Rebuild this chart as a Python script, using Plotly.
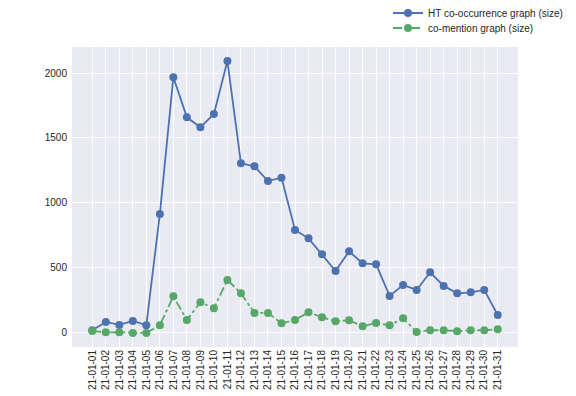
import plotly.graph_objects as go

dates = ["21-01-%02d" % d for d in range(1, 32)]
ht_cooc = [20, 85, 62, 92, 60, 915, 1967, 1659, 1582, 1685, 2092, 1305, 1282, 1169, 1195,
           792, 728, 605, 477, 628, 536, 528, 285, 369, 331, 467, 362, 305, 313, 331, 138]
co_mention = [15, 5, 5, 0, 0, 59, 282, 100, 236, 190, 408, 305, 154, 154, 74,
              100, 159, 121, 90, 97, 51, 77, 59, 113, 8, 21, 21, 13, 21, 21, 28]

blue = "#4C72B0"
green = "#55A868"
x_idx = list(range(len(dates)))

fig = go.Figure()
fig.add_trace(go.Scatter(x=x_idx, y=ht_cooc, mode="lines+markers",
                         name="HT co-occurrence graph (size)",
                         line=dict(color=blue, width=1.8),
                         marker=dict(color=blue, size=8), legend="legend"))
fig.add_trace(go.Scatter(x=x_idx, y=co_mention, mode="lines+markers",
                         name="co-mention graph (size)",
                         line=dict(color=green, width=1.8, dash="dashdot"),
                         marker=dict(color=green, size=8), legend="legend2"))

# page body has an 8px margin, so the figure is 568x388 placed at (8, 8)
W, H = 568, 388
leg_common = dict(xref="container", yref="container", xanchor="left", yanchor="middle",
                  bgcolor="rgba(0,0,0,0)", font=dict(size=10, color="#262626"),
                  itemwidth=30)
fig.update_layout(
    width=W, height=H,
    margin=dict(l=64, r=58, t=39, b=49, autoexpand=False),
    paper_bgcolor="white", plot_bgcolor="#EAEAF2",
    font=dict(family="Liberation Sans, Arial, sans-serif", size=10, color="#262626"),
    legend=dict(x=380 / W, y=1 - 5 / H, **leg_common),
    legend2=dict(x=380 / W, y=1 - 20 / H, **leg_common),
    showlegend=True,
)
fig.update_xaxes(range=[-1.5, 31.5], tickmode="array", tickvals=x_idx, ticktext=dates,
                 tickangle=-90, showgrid=True, gridcolor="white", gridwidth=1,
                 zeroline=False, showline=False, ticks="", automargin=False,
                 tickfont=dict(size=10))
fig.update_yaxes(range=[-108, 2200], tickvals=[0, 500, 1000, 1500, 2000],
                 showgrid=True, gridcolor="white", gridwidth=1, zeroline=False,
                 showline=False, ticks="", automargin=False, ticklabelstandoff=4)

fig.write_html("out.html")
